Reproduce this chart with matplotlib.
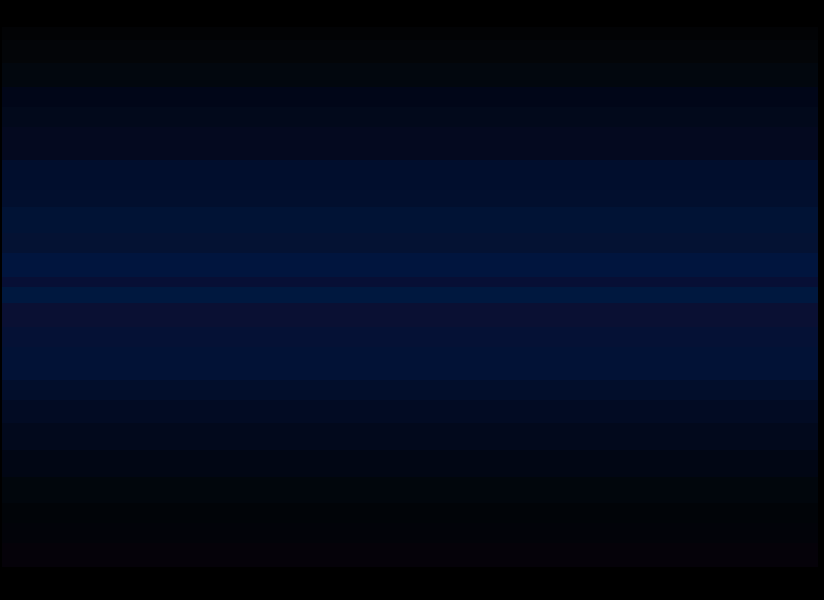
import matplotlib
matplotlib.use("Agg")

import numpy as np
import matplotlib.pyplot as plt

# =========================
# DATA (row edges, per-row channel levels 0-255)
# =========================

row_edges = [27, 40, 63, 87, 107, 127, 160, 190, 207, 233, 253, 277, 287,
             303, 327, 347, 380, 400, 423, 450, 477, 503, 523, 543, 567]

red_level = [2, 3, 2, 1, 2, 4, 1, 2, 1, 4, 1, 7, 0,
             10, 5, 2, 2, 2, 2, 1, 1, 1, 2, 5]
green_level = [3, 5, 7, 6, 9, 9, 14, 15, 19, 18, 21, 15, 24,
               16, 17, 18, 14, 11, 9, 6, 6, 4, 3, 2]
blue_level = [5, 8, 14, 24, 27, 31, 45, 46, 53, 51, 62, 53, 63,
              51, 53, 54, 43, 35, 28, 20, 12, 8, 9, 9]

# =========================
# FIGURE
# =========================

fig = plt.figure(figsize=(8.24, 6.00), dpi=100, facecolor="black")

ax = fig.add_axes([2 / 824, 1 - 567 / 600, 816 / 824, 540 / 600])
ax.set_facecolor("black")

rgb = np.stack([red_level, green_level, blue_level], axis=-1) / 255.0
rgb = rgb[:, np.newaxis, :]

ax.pcolormesh([0, 1], row_edges, rgb, shading="flat")

ax.set_xlim(0, 1)
ax.set_ylim(row_edges[-1], row_edges[0])
ax.axis("off")

fig.savefig("out.png", dpi=100, facecolor="black")
plt.close(fig)
